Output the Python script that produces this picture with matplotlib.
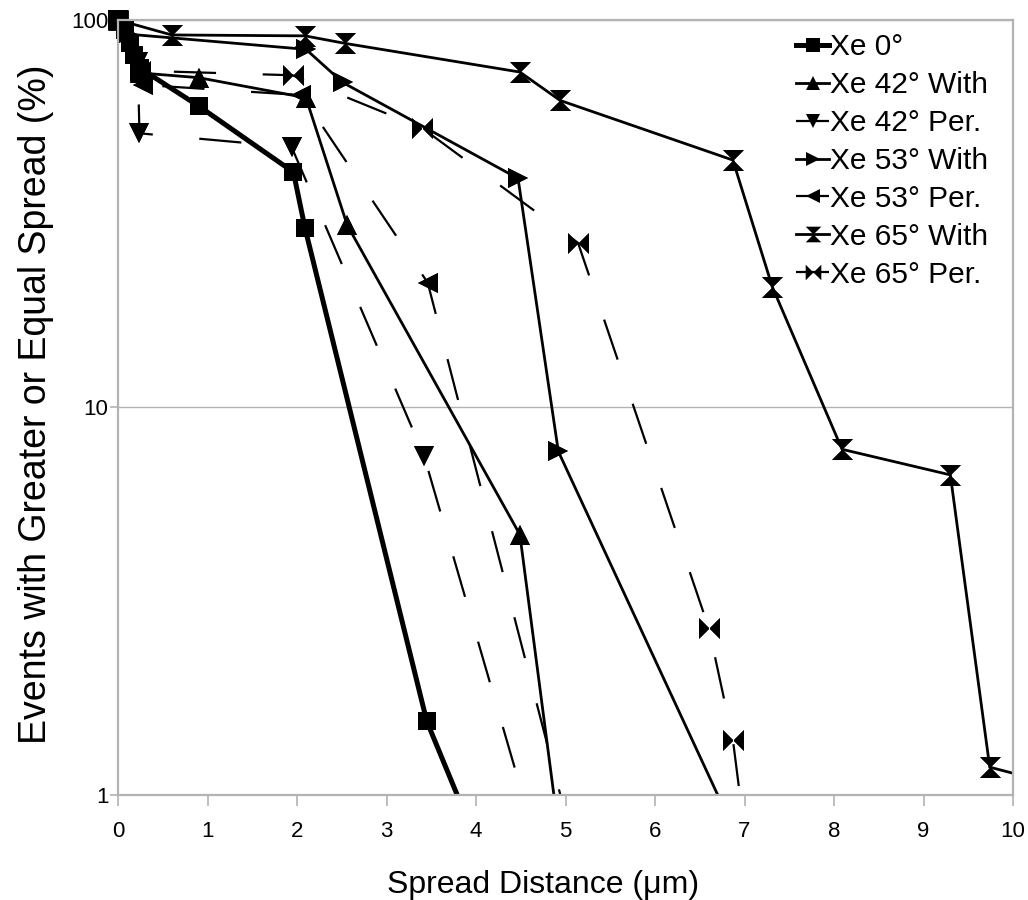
import matplotlib
matplotlib.use("Agg")
import matplotlib.pyplot as plt
from matplotlib.path import Path
import numpy as np

plt.rcParams['font.family'] = ['Liberation Sans', 'DejaVu Sans']

# ---- data ----
x_xe0 = [0, 0.08, 0.13, 0.18, 0.25, 0.9, 1.96, 2.09, 3.45, 4.2]
y_xe0 = [100, 94, 87, 81, 75, 60, 40.5, 29, 1.55, 0.59]

x_42w = [0, 0.25, 0.9, 2.1, 2.56, 4.49, 5.0]
y_42w = [100, 73, 71, 63, 29.6, 4.7, 0.59]

x_42p = [0, 0.22, 0.24, 1.94, 3.42, 4.8]
y_42p = [100, 78, 51, 47, 7.5, 0.6]

x_53w = [0, 0.1, 2.1, 2.51, 4.47, 4.92, 7.0]
y_53w = [100, 92, 84, 69, 39, 7.7, 0.71]

x_53p = [0, 0.28, 2.05, 3.46, 5.2]
y_53p = [100, 68, 64, 21, 0.59]

x_65w = [0, 0.6, 2.09, 2.54, 4.49, 4.94, 6.87, 7.31, 8.09, 9.3, 9.74, 11.0]
y_65w = [100, 91.5, 91, 87, 73.4, 62, 43.5, 20.5, 7.8, 6.7, 1.18, 0.99]

x_65p = [0, 0.25, 1.95, 3.4, 5.14, 6.6, 6.87, 7.1]
y_65p = [100, 74, 72, 52.6, 26.6, 2.7, 1.39, 0.53]

labels = ["Xe 0°", "Xe 42° With", "Xe 42° Per.", "Xe 53° With",
          "Xe 53° Per.", "Xe 65° With", "Xe 65° Per."]
x_ticks = list(range(0, 11))
y_ticks = [1, 10, 100]

# ---- custom markers ----
sandglass = Path([(-1, 1), (1, 1), (0, 0), (-1, 1),
                  (-1, -1), (1, -1), (0, 0), (-1, -1)],
                 [Path.MOVETO, Path.LINETO, Path.LINETO, Path.CLOSEPOLY,
                  Path.MOVETO, Path.LINETO, Path.LINETO, Path.CLOSEPOLY])
bowtie = Path([(-1, 1), (-1, -1), (0, 0), (-1, 1),
               (1, 1), (1, -1), (0, 0), (1, 1)],
              [Path.MOVETO, Path.LINETO, Path.LINETO, Path.CLOSEPOLY,
               Path.MOVETO, Path.LINETO, Path.LINETO, Path.CLOSEPOLY])

dash = (0, (19, 21))
series = [
    (x_xe0, y_xe0, 's', 13, '-', 3.6),
    (x_42w, y_42w, '^', 14, '-', 2.0),
    (x_42p, y_42p, 'v', 14, dash, 1.6),
    (x_53w, y_53w, '>', 14, '-', 2.0),
    (x_53p, y_53p, '<', 14, dash, 1.6),
    (x_65w, y_65w, sandglass, 15, '-', 2.0),
    (x_65p, y_65p, bowtie, 15, dash, 1.6),
]

fig = plt.figure(figsize=(10.28, 9.0), dpi=100)
ax = fig.add_axes([118/1028, 1 - 795/900, (1013-118)/1028, (795-20)/900])

xmin, xmax, ymin, ymax = 0, 10, 1, 100
handles = []
for (xs, ys, mk, ms, ls, lw), lab in zip(series, labels):
    ln, = ax.plot(xs, ys, color='black', linestyle=ls, linewidth=lw,
                  marker=mk, markersize=ms, markeredgewidth=0,
                  label=lab, solid_joinstyle='miter')
    inside = [i for i, (a, b) in enumerate(zip(xs, ys))
              if xmin <= a <= xmax and ymin <= b <= ymax]
    ax.plot(xs, ys, linestyle='none', marker=mk, markersize=ms,
            markeredgewidth=0, color='black', markevery=inside,
            clip_on=False)
    handles.append(ln)

ax.set_yscale('log')
ax.set_xlim(xmin, xmax)
ax.set_ylim(ymin, ymax)
ax.set_xticks(x_ticks)
ax.set_xticklabels([str(t) for t in x_ticks])
ax.set_yticks(y_ticks)
ax.set_yticklabels([str(t) for t in y_ticks])
ax.yaxis.set_minor_locator(matplotlib.ticker.NullLocator())

grid_c = '#b3b3b3'
ax.grid(axis='y', which='major', color=grid_c, linewidth=1.0)
ax.set_axisbelow(True)
for s in ax.spines.values():
    s.set_color(grid_c)
    s.set_linewidth(1.6)
ax.tick_params(axis='both', colors=grid_c, labelcolor='black', labelsize=16,
               direction='out', width=1.2)
ax.tick_params(axis='x', length=8, pad=11)
ax.tick_params(axis='y', length=6, pad=1)

ax.set_xlabel("Spread Distance (μm)", fontsize=23)
ax.xaxis.set_label_coords((543 - 118) / (1013 - 118), -(885 - 795) / (795 - 20),
                          transform=ax.transAxes)
ax.xaxis.label.set_va('center')
ax.set_ylabel("Events with Greater or Equal Spread (%)", fontsize=27)
ax.yaxis.set_label_coords(-(118 - 36) / (1013 - 118), (795 - 404) / (795 - 20),
                          transform=ax.transAxes)
ax.yaxis.label.set_va('center')

leg = ax.legend(handles=handles, loc='upper right',
                bbox_to_anchor=(1.0 - 11 / 895, 1.0), frameon=False,
                fontsize=21.5, handlelength=1.1, handletextpad=0.05,
                labelspacing=0.33, markerscale=0.75, borderaxespad=0.05)

fig.savefig("out.png", dpi=100)
